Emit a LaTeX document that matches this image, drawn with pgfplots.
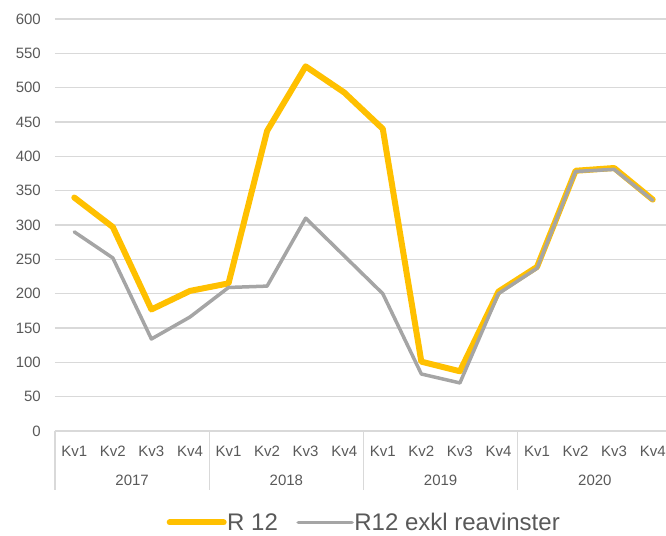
\documentclass[border=0pt]{standalone}
\usepackage{fontspec}
\setmainfont{Liberation Sans}
\usepackage{pgfplots}
\pgfplotsset{compat=1.18}
\definecolor{ryellow}{HTML}{FFC000}
\definecolor{rgray}{HTML}{A5A5A5}
\definecolor{gridc}{HTML}{D9D9D9}
\definecolor{txt}{HTML}{595959}
\begin{document}
\begin{tikzpicture}[x=1pt,y=1pt]
\path[use as bounding box] (0,0) rectangle (666,535);
\clip (0,0) rectangle (666,535);
\begin{axis}[
  at={(55pt,104pt)}, anchor=south west,
  width=617pt, height=412pt, scale only axis,
  xmin=-0.5, xmax=15.5, ymin=0, ymax=600,
  ytick={0,50,...,600},
  xtick={0,...,15},
  xticklabels={Kv1,Kv2,Kv3,Kv4,Kv1,Kv2,Kv3,Kv4,Kv1,Kv2,Kv3,Kv4,Kv1,Kv2,Kv3,Kv4},
  major tick length=0pt,
  axis x line*=bottom, axis y line*=left,
  x axis line style={gridc, line width=1.3pt, -},
  y axis line style={draw=none},
  ymajorgrids, grid style={gridc, line width=1.3pt},
  tick label style={txt, font=\fontsize{15}{18}\selectfont},
  /pgf/number format/assume math mode=true,
  yticklabel style={anchor=east, inner sep=0pt, xshift=-14pt},
  xticklabel style={anchor=base, inner sep=0pt, yshift=-25.5pt},
  clip=false,
  legend style={at={(0.5,-0.222)}, anchor=center, draw=none, fill=none,
    font=\fontsize{24}{28}\selectfont, text=txt,
    nodes={inner sep=0.5pt}},
  legend columns=2,
  legend image code/.code={\draw[#1] (0pt,0pt) -- (54pt,0pt);},
  /tikz/every even column/.append style={column sep=18pt},
]
\addplot[ryellow, line width=6pt, line cap=round, line join=round] coordinates {
(0,340) (1,297) (2,177) (3,204) (4,215) (5,437) (6,531) (7,493)
(8,440) (9,101) (10,87) (11,203) (12,239) (13,379) (14,383) (15,337)};
\addlegendentry{R 12}
\addplot[rgray, line width=3.5pt, line cap=round, line join=round] coordinates {
(0,290) (1,252) (2,134) (3,166) (4,209) (5,211) (6,310) (7,255)
(8,200) (9,83) (10,70) (11,200) (12,237) (13,378) (14,381) (15,336)};
\addlegendentry{R12 exkl reavinster}
\foreach \s in {-0.5,3.5,7.5,11.5,15.5}{
  \edef\tmp{\noexpand\draw[gridc, line width=1.3pt] (axis cs:\s,0) -- ++(0pt,-59pt);}\tmp
}
\foreach \p/\y in {1.5/2017,5.5/2018,9.5/2019,13.5/2020}{
  \edef\tmp{\noexpand\node[text=txt, font=\noexpand\fontsize{15}{18}\noexpand\selectfont, anchor=base, inner sep=0pt] at ([yshift=-54pt]axis cs:\p,0) {\y};}\tmp
}
\end{axis}
\end{tikzpicture}
\end{document}
